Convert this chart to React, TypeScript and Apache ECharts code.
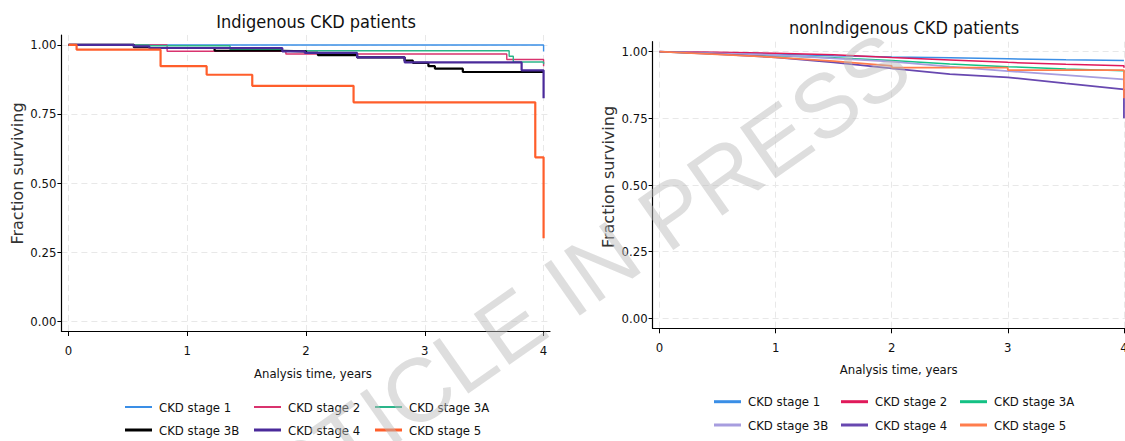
import React, { useEffect, useRef } from "react";
import * as echarts from "echarts";

// ---------- data ----------
const STAGES = ["CKD stage 1", "CKD stage 2", "CKD stage 3A", "CKD stage 3B", "CKD stage 4", "CKD stage 5"];
const X_TICKS = [0, 1, 2, 3, 4];
const Y_TICKS = [0, 0.25, 0.5, 0.75, 1];
const TITLES = ["Indigenous CKD patients", "nonIndigenous CKD patients"];
const X_NAME = "Analysis time, years";
const Y_NAME = "Fraction surviving";
const WATERMARK = "ARTICLE IN PRESS";

// Indigenous (Kaplan-Meier steps: [time of drop, new survival])
const indStage1 = [[0, 1], [4, 0.976]];
const indStage2 = [[0, 1], [0.83, 0.977], [1.83, 0.967], [3.69, 0.947], [4, 0.923]];
const indStage3A = [[0, 1], [0.68, 0.997], [1.36, 0.983], [1.8, 0.979], [3.71, 0.959], [3.745, 0.938], [4, 0.93]];
const indStage3B = [[0, 1], [0.55, 0.992], [0.68, 0.989], [1.23, 0.979], [1.8, 0.977], [2.0, 0.971], [2.1, 0.963], [2.43, 0.955], [2.83, 0.943], [2.9, 0.935], [3.03, 0.923], [3.085, 0.914], [3.32, 0.902], [4, 0.9]];
const indStage4 = [[0, 1], [0.55, 0.995], [0.68, 0.989], [1.8, 0.977], [1.99, 0.971], [2.43, 0.955], [2.83, 0.937], [3.815, 0.908], [4, 0.807]];
const indStage5 = [[0, 1], [0.068, 0.983], [0.775, 0.923], [1.163, 0.892], [1.547, 0.852], [2.4, 0.792], [3.93, 0.593], [4, 0.3]];

// nonIndigenous
const nonStage1 = [[0, 1], [0.5, 0.996], [1, 0.991], [1.5, 0.985], [2, 0.98], [2.5, 0.977], [3, 0.9735], [3.5, 0.97], [4, 0.967]];
const nonStage2 = [[0, 1], [0.5, 0.9975], [1, 0.994], [1.5, 0.989], [2, 0.978], [2.5, 0.969], [3, 0.96], [3.5, 0.9525], [4, 0.9475], [4, 0.94]];
const nonStage3A = [[0, 1], [0.5, 0.9925], [1, 0.985], [1.5, 0.9775], [2, 0.967], [2.5, 0.954], [3, 0.944], [3.5, 0.935], [4, 0.929], [4, 0.922]];
const nonStage3B = [[0, 1], [0.5, 0.994], [1, 0.9875], [1.5, 0.975], [2, 0.963], [2.5, 0.944], [3, 0.9275], [3.5, 0.9125], [4, 0.896]];
const nonStage4 = [[0, 1], [0.5, 0.991], [1, 0.979], [1.5, 0.96], [2, 0.9375], [2.5, 0.916], [3, 0.904], [3.5, 0.881], [4, 0.859], [4, 0.75]];
const nonStage5 = [[0, 1], [0.5, 0.99], [1, 0.979], [1.5, 0.965], [2, 0.947], [2, 0.94], [3, 0.94], [3, 0.931], [4, 0.931], [4, 0.825]];

const IND_DATA = [indStage1, indStage2, indStage3A, indStage3B, indStage4, indStage5];
const NON_DATA = [nonStage1, nonStage2, nonStage3A, nonStage3B, nonStage4, nonStage5];

// ---------- styles ----------
const IND_COLORS = ["#3a8ee6", "#d9336e", "#2bb58a", "#000000", "#4a2a9a", "#ff5e2b"];
const NON_COLORS = ["#3a8ee6", "#e0195a", "#14c184", "#a79ddf", "#6848b0", "#ff7d4d"];
const IND_WIDTHS = [1.4, 1.4, 1.4, 2.2, 2.2, 2.2];
const NON_WIDTHS = [1.5, 1.5, 1.5, 1.8, 1.8, 1.8];
const IND_LEG_H = [2, 2, 2, 3, 3, 3];
const NON_LEG_H = [3, 3, 3, 3, 3, 3];
const IND_LEG_POS = [[125, 407], [254, 407], [375, 407], [125, 430], [254, 430], [375, 430]];
const NON_LEG_POS = [[714, 401.7], [841, 401.7], [960, 401.7], [714, 425], [841, 425], [960, 425]];

const COND = "'DejaVu Sans Condensed', 'Liberation Sans Narrow', 'DejaVu Sans', sans-serif";
const TXT = "#111111";

function xAxisCfg(gridIndex: number, min: number, max: number) {
  return {
    type: "value",
    gridIndex,
    min,
    max,
    axisLine: { show: true, onZero: false, lineStyle: { color: "#000", width: 1.2 } },
    axisTick: { show: true, length: 5, customValues: X_TICKS, lineStyle: { color: "#000", width: 1 } },
    axisLabel: { customValues: X_TICKS, margin: 13, fontSize: 13, color: TXT, fontFamily: COND },
    splitLine: { show: true, lineStyle: { type: [6, 4], color: "#e8e8e8", width: 1 } },
  };
}
function yAxisCfg(gridIndex: number, min: number, max: number) {
  return {
    type: "value",
    gridIndex,
    min,
    max,
    axisLine: { show: true, onZero: false, lineStyle: { color: "#000", width: 1.2 } },
    axisTick: { show: true, length: 4, customValues: Y_TICKS, lineStyle: { color: "#000", width: 1 } },
    axisLabel: {
      customValues: Y_TICKS,
      margin: 5,
      fontSize: 13,
      color: TXT,
      fontFamily: COND,
      formatter: (v: number) => v.toFixed(2),
    },
    splitLine: { show: true, lineStyle: { type: [6, 4], color: "#e8e8e8", width: 1 } },
  };
}

function textEl(text: string, x: number, y: number, font: string, rotation = 0, fill = TXT) {
  return {
    type: "text",
    x,
    y,
    rotation,
    silent: true,
    style: {
      text,
      font,
      fill,
      align: "center",
      verticalAlign: "middle",
      textAlign: "center",
      textVerticalAlign: "middle",
    },
  };
}

function buildOption() {
  const series: any[] = [];
  STAGES.forEach((name, i) => {
    series.push({
      name,
      type: "line",
      xAxisIndex: 0,
      yAxisIndex: 0,
      data: IND_DATA[i],
      step: "end",
      symbol: "none",
      showSymbol: false,
      lineStyle: { color: IND_COLORS[i], width: IND_WIDTHS[i] },
      itemStyle: { color: IND_COLORS[i] },
      z: 2 + i * 0.1,
    });
  });
  STAGES.forEach((name, i) => {
    series.push({
      name,
      type: "line",
      xAxisIndex: 1,
      yAxisIndex: 1,
      data: NON_DATA[i],
      symbol: "none",
      showSymbol: false,
      lineStyle: { color: NON_COLORS[i], width: NON_WIDTHS[i] },
      itemStyle: { color: NON_COLORS[i] },
      z: 2 + i * 0.1,
    });
  });

  const legends: any[] = [];
  const addLegends = (pos: number[][], colors: string[], hs: number[]) => {
    STAGES.forEach((name, i) => {
      legends.push({
        data: [{ name, icon: "rect", itemStyle: { color: colors[i] } }],
        left: pos[i][0],
        top: pos[i][1] - 8,
        padding: 0,
        itemWidth: 27,
        itemHeight: hs[i],
        selectedMode: false,
        textStyle: { fontSize: 13, fontFamily: COND, color: TXT, lineHeight: 16, padding: [0, 0, 0, 2] },
      });
    });
  };
  addLegends(IND_LEG_POS, IND_COLORS, IND_LEG_H);
  addLegends(NON_LEG_POS, NON_COLORS, NON_LEG_H);

  return {
    animation: false,
    backgroundColor: "#ffffff",
    grid: [
      { left: 61.4, top: 35, width: 488.6, height: 296, outerBoundsMode: "none", containLabel: false },
      { left: 652.6, top: 41.7, width: 478.3, height: 286.6, outerBoundsMode: "none", containLabel: false },
    ],
    xAxis: [xAxisCfg(0, -0.06, 4.054), xAxisCfg(1, -0.0594, 4.06)],
    yAxis: [yAxisCfg(0, -0.036, 1.036), yAxisCfg(1, -0.0375, 1.0375)],
    legend: legends,
    series,
    graphic: [
      textEl(TITLES[0], 316, 21, `18px ${COND}`),
      textEl(TITLES[1], 904, 27.5, `18px ${COND}`),
      textEl(X_NAME, 313, 373, `13px ${COND}`),
      textEl(X_NAME, 898.7, 369, `13px ${COND}`),
      textEl(Y_NAME, 17.5, 173.5, "16px 'DejaVu Sans', sans-serif", Math.PI / 2, "#333333"),
      textEl(Y_NAME, 608.5, 177, "16px 'DejaVu Sans', sans-serif", Math.PI / 2, "#333333"),
      {
        type: "text",
        x: 562,
        y: 290,
        rotation: (35 * Math.PI) / 180,
        z: 100,
        silent: true,
        style: {
          text: WATERMARK,
          font: "90px 'Liberation Sans', Arial, sans-serif",
          fill: "#bbbbbb",
          opacity: 0.48,
          align: "center",
          verticalAlign: "middle",
          textAlign: "center",
          textVerticalAlign: "middle",
        },
      },
    ],
  };
}

export default function App() {
  const ref = useRef<HTMLDivElement>(null);
  useEffect(() => {
    if (!ref.current) return;
    const chart = echarts.init(ref.current, null, { renderer: "svg" });
    chart.setOption(buildOption() as any);
    return () => chart.dispose();
  }, []);
  return (
    <div
      ref={ref}
      style={{ position: "absolute", left: 0, top: 0, width: 1125, height: 441, background: "#fff" }}
    />
  );
}
